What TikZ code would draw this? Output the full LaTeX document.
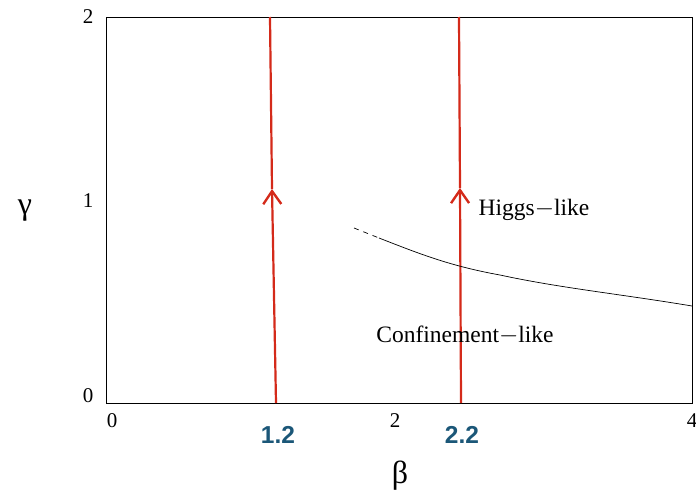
\documentclass[tikz,border=0pt]{standalone}
\usepackage{fontspec}
\setmainfont{Liberation Serif}
\setsansfont{Liberation Sans}
\usetikzlibrary{arrows.meta}
\definecolor{flowred}{HTML}{D42A1A}
\definecolor{valblue}{HTML}{1B5778}

\begin{document}
\begin{tikzpicture}[x=1pt, y=-1pt,
    flow/.style={flowred, line width=2.2pt},
    tick/.style={font=\fontsize{21}{22}\selectfont},
    region/.style={font=\fontsize{23.5}{25}\selectfont},
    val/.style={valblue, font=\sffamily\bfseries\fontsize{24.5}{26}\selectfont},
    axlabel/.style={font=\fontsize{32}{34}\selectfont}]
  \useasboundingbox (0,0) rectangle (696,498);
  % frame of the phase diagram
  \draw[line width=0.8pt] (106,17) rectangle (692,403);
  % tick labels
  \node[tick] (y0) at (88,396) {0};
  \node[tick] (y1) at (88,201) {1};
  \node[tick] (y2) at (88,17) {2};
  \node[tick] (x0) at (112,421) {0};
  \node[tick] (x2) at (395,421) {2};
  \node[tick] (x4) at (692,421) {4};
  \node[axlabel] (gam) at (25,211) {γ};
  \node[axlabel] (bet) at (400,476) {β};
  % paths at fixed beta
  \coordinate (b1) at (276,403);
  \coordinate (m1) at (272,189);
  \coordinate (t1) at (270,17);
  \coordinate (b2) at (461,403);
  \coordinate (m2) at (460,188);
  \coordinate (t2) at (459,17);
  \draw[flow, -{Straight Barb[length=13pt, width=18pt, line width=2.4pt]}] (b1) -- (m1);
  \draw[flow] (m1) -- (t1);
  \draw[flow, -{Straight Barb[length=13pt, width=18pt, line width=2.4pt]}] (b2) -- (m2);
  \draw[flow] (m2) -- (t2);
  \node[val] (v1) at (278,435) {1.2};
  \node[val] (v2) at (462,435) {2.2};
  % transition line
  \draw[line width=0.7pt, dashed, dash pattern=on 5pt off 5pt] (354,228) -- (379,238);
  \draw[line width=0.7pt] (379,238) .. controls (420,254) and (450,266) .. (500,275)
    .. controls (560,288) and (620,294) .. (692,306);
  \node[region] (higgs) at (534,210) {Higgs$-$like};
  \node[region] (conf) at (465,335) {Confinement$-$like};
\end{tikzpicture}
\end{document}
